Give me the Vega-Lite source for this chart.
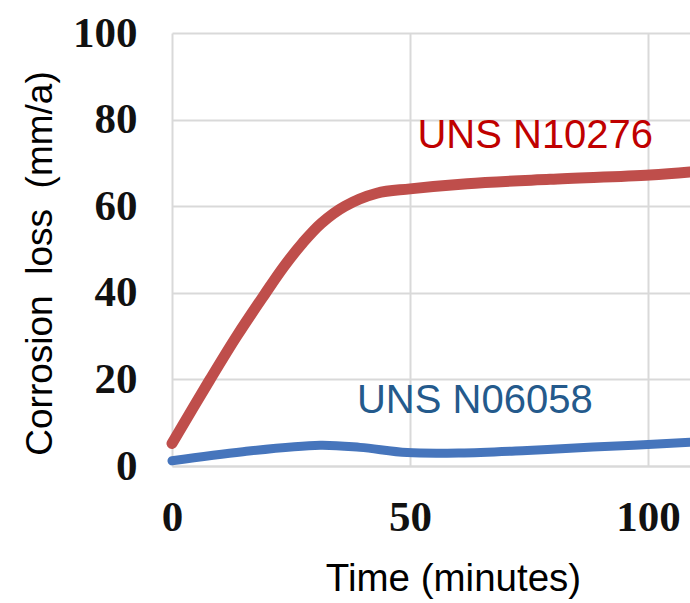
{
  "$schema": "https://vega.github.io/schema/vega-lite/v6.json",
  "width": 518,
  "height": 433,
  "autosize": "none",
  "padding": {"left": 172, "top": 33, "right": 0, "bottom": 137},
  "background": "white",
  "config": {
    "view": {"stroke": null},
    "axis": {
      "grid": true,
      "gridColor": "#D9D9D9",
      "gridWidth": 2,
      "ticks": false,
      "labelFont": "Liberation Serif",
      "labelFontWeight": "bold",
      "labelFontSize": 43,
      "labelColor": "#111111",
      "labelOverlap": false,
      "labelBound": false,
      "titleFont": "Liberation Sans",
      "titleFontWeight": "normal",
      "titleColor": "#000000"
    }
  },
  "datasets": {
    "curves": [
      {"series": "UNS N10276", "time": 0, "loss": 5.2},
      {"series": "UNS N10276", "time": 8, "loss": 20.0},
      {"series": "UNS N10276", "time": 13.6, "loss": 30.0},
      {"series": "UNS N10276", "time": 19.5, "loss": 39.7},
      {"series": "UNS N10276", "time": 23.4, "loss": 45.9},
      {"series": "UNS N10276", "time": 27.5, "loss": 51.6},
      {"series": "UNS N10276", "time": 31.4, "loss": 56.1},
      {"series": "UNS N10276", "time": 36.3, "loss": 60.0},
      {"series": "UNS N10276", "time": 43, "loss": 63.0},
      {"series": "UNS N10276", "time": 50, "loss": 64.0},
      {"series": "UNS N10276", "time": 62, "loss": 65.2},
      {"series": "UNS N10276", "time": 79.4, "loss": 66.2},
      {"series": "UNS N10276", "time": 100.4, "loss": 67.2},
      {"series": "UNS N10276", "time": 108.8, "loss": 67.9},
      {"series": "UNS N06058", "time": 0, "loss": 1.2},
      {"series": "UNS N06058", "time": 14.9, "loss": 3.3},
      {"series": "UNS N06058", "time": 31.1, "loss": 4.8},
      {"series": "UNS N06058", "time": 39.5, "loss": 4.3},
      {"series": "UNS N06058", "time": 49.4, "loss": 3.1},
      {"series": "UNS N06058", "time": 60.5, "loss": 3.0},
      {"series": "UNS N06058", "time": 74.6, "loss": 3.6},
      {"series": "UNS N06058", "time": 88.4, "loss": 4.4},
      {"series": "UNS N06058", "time": 99, "loss": 4.9},
      {"series": "UNS N06058", "time": 108.8, "loss": 5.5}
    ],
    "labels": [
      {"series": "UNS N10276", "time": 76.3, "loss": 73.4},
      {"series": "UNS N06058", "time": 63.6, "loss": 12.2}
    ]
  },
  "layer": [
    {
      "mark": {"type": "rect", "color": "white"},
      "encoding": {
        "x": {"datum": 47.7, "type": "quantitative"},
        "x2": {"datum": 105.3},
        "y": {"datum": 68.4, "type": "quantitative"},
        "y2": {"datum": 85.7}
      }
    },
    {
      "mark": {"type": "rect", "color": "white"},
      "encoding": {
        "x": {"datum": 34.7, "type": "quantitative"},
        "x2": {"datum": 92.6},
        "y": {"datum": 7.2, "type": "quantitative"},
        "y2": {"datum": 24.0}
      }
    },
    {
      "data": {"name": "curves"},
      "mark": {"type": "line", "interpolate": "catmull-rom", "strokeCap": "round"},
      "encoding": {
        "x": {
          "field": "time",
          "type": "quantitative",
          "scale": {"domain": [0, 108.8], "nice": false, "zero": false},
          "axis": {
            "values": [0, 50, 100],
            "domain": true,
            "domainColor": "#D9D9D9",
            "domainWidth": 2,
            "labelPadding": 30,
            "labelFlush": false,
            "title": "Time (minutes)",
            "titleFontSize": 38.5,
            "titleX": 281,
            "titleY": 124,
            "titleAlign": "center",
            "titleBaseline": "alphabetic"
          }
        },
        "y": {
          "field": "loss",
          "type": "quantitative",
          "scale": {"domain": [0, 100], "nice": false},
          "axis": {
            "values": [0, 20, 40, 60, 80, 100],
            "domain": false,
            "labelPadding": 35,
            "title": "Corrosion\u00a0 loss\u00a0 (mm/a)",
            "titleFontSize": 37,
            "titleAngle": -90,
            "titleX": -132,
            "titleY": 230,
            "titleAlign": "center",
            "titleBaseline": "middle"
          }
        },
        "color": {
          "field": "series",
          "type": "nominal",
          "scale": {"domain": ["UNS N10276", "UNS N06058"], "range": ["#BF4E4B", "#4675BC"]},
          "legend": null
        },
        "size": {
          "field": "series",
          "type": "nominal",
          "scale": {"domain": ["UNS N10276", "UNS N06058"], "range": [11, 9]},
          "legend": null
        }
      }
    },
    {
      "data": {"name": "labels"},
      "mark": {"type": "text", "font": "Liberation Sans", "fontSize": 40, "align": "center", "baseline": "alphabetic"},
      "encoding": {
        "x": {"field": "time", "type": "quantitative"},
        "y": {"field": "loss", "type": "quantitative"},
        "text": {"field": "series"},
        "color": {
          "field": "series",
          "type": "nominal",
          "scale": {"domain": ["UNS N10276", "UNS N06058"], "range": ["#C00000", "#245A8C"]},
          "legend": null
        }
      }
    }
  ],
  "resolve": {"scale": {"color": "independent"}}
}
